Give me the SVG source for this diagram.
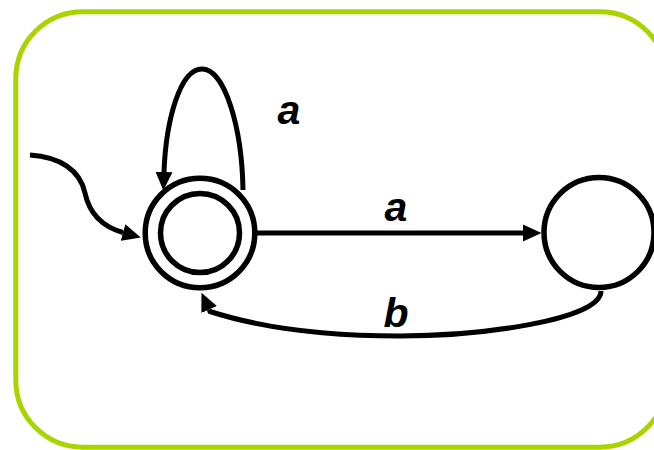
<svg xmlns="http://www.w3.org/2000/svg" width="654" height="450" viewBox="0 0 654 450">
  <style>
    .frame { fill: #ffffff; stroke: #a9d400; stroke-width: 5; }
    .state { fill: #ffffff; stroke: #000000; stroke-width: 5.5; }
    .edge { fill: none; stroke: #000000; stroke-width: 5; marker-end: url(#arrow); }
    .lbl { font-family: "Liberation Sans", Arial, sans-serif; font-weight: bold; font-style: italic; font-size: 41px; fill: #000000; text-anchor: middle; }
  </style>
  <defs>
    <marker id="arrow" markerUnits="userSpaceOnUse" markerWidth="19" markerHeight="18" refX="0" refY="8.5" orient="auto" viewBox="0 0 19 17">
      <path d="M0,0 L18.5,8.5 L0,17 z" fill="#000000"/>
    </marker>
  </defs>
  <rect class="frame" x="15.8" y="11.7" width="651" height="435.5" rx="67" ry="67"/>
  <g id="connectors">
    <path id="e-init" class="edge" d="M30,155 C60,157 80,170 85,193 C89,212 100,226 123,232.5"/>
    <path id="e-loop" class="edge" d="M243,190 C242,128 225,69 202,69 C180,69 166,120 164,172"/>
    <path id="e-a" class="edge" d="M257,233 L523,233"/>
    <path id="e-b" class="edge" d="M601,291 C601,320 480,336 400,336 C320,336 255,326 210,311.5 l-0.9,-2"/>
  </g>
  <g id="q0">
    <circle class="state" cx="200" cy="233" r="54.8"/>
    <circle class="state" cx="200" cy="233" r="39.5"/>
  </g>
  <g id="q1">
    <circle class="state" cx="599" cy="232.5" r="55"/>
  </g>
  <g id="labels">
    <text class="lbl" x="289" y="124">a</text>
    <text class="lbl" x="396" y="221">a</text>
    <text class="lbl" x="396" y="327">b</text>
  </g>
</svg>
